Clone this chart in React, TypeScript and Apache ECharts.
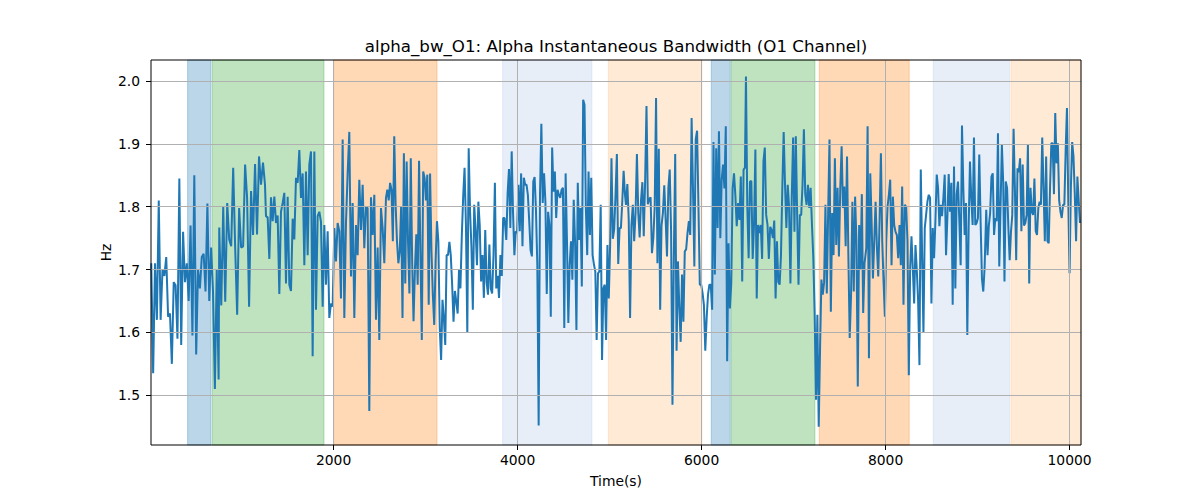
import React, { useEffect, useRef } from "react";
import * as echarts from "echarts";

// ---- data ----
const X_MIN = 15;
const X_MAX = 10124;
const Y_MIN = 1.4209;
const Y_MAX = 2.0334;

const X_TICKS = [2000, 4000, 6000, 8000, 10000];
const Y_TICKS = [1.5, 1.6, 1.7, 1.8, 1.9, 2.0];

// time range covered by each block of readings
const SEG_RANGES: [number, number][] = [
  [18, 750],
  [757, 1254],
  [1265, 2551],
  [2569, 3858],
  [3877, 5167],
  [5178, 6471],
  [6482, 7771],
  [7790, 9076],
  [9094, 10113],
];

const SEG_A = [1.71,1.535,1.71,1.62,1.81,1.62,1.70,1.69,1.72,1.625,1.63,1.55,1.68,1.675,1.59,1.845,1.58,1.76,1.68,1.71,1.65,1.77,1.595,1.85,1.565,1.70,1.67,1.72,1.725,1.665,1.805,1.65,1.735,1.665,1.51,1.70,1.525];
const SEG_B = [1.767,1.643,1.80,1.649,1.806,1.748,1.737,1.862,1.735,1.628,1.798,1.735,1.737,1.867,1.814,1.641,1.825,1.755,1.868,1.756,1.88,1.835,1.87,1.835];
const SEG_C = [1.785,1.783,1.717,1.815,1.777,1.816,1.774,1.786,1.661,1.792,1.806,1.822,1.678,1.816,1.676,1.666,1.781,1.748,1.846,1.838,1.89,1.814,1.853,1.707,1.856,1.723,1.867,1.888,1.562,1.888,1.636,1.785,1.792,1.776,1.641,1.771,1.676,1.761,1.623,1.646,1.641,1.766,1.713,1.774,1.761,1.654,1.907,1.623,1.774,1.853,1.919,1.689,1.806,1.623,1.771,1.723,1.843,1.763,1.835,1.734,1.80,1.798,1.475,1.815,1.755,1.819,1.62,1.735,1.588,1.798,1.766,1.71];
const SEG_D = [1.814,1.827,1.81,1.838,1.827,1.745,1.912,1.803,1.745,1.71,1.729,1.80,1.623,1.885,1.678,1.872,1.745,1.662,1.877,1.713,1.618,1.70,1.756,1.676,1.873,1.723,1.588,1.856,1.846,1.81,1.851,1.644,1.853,1.729,1.66,1.612,1.713,1.777,1.745,1.607,1.556,1.652,1.623,1.58,1.723,1.723,1.744,1.723,1.676,1.617,1.666,1.649,1.63,1.70,1.67,1.753,1.816,1.862,1.771,1.599,1.893,1.792,1.735,1.636,1.803,1.763,1.707,1.808,1.771,1.681,1.723,1.655,1.763,1.68,1.66,1.74,1.67,1.662,1.723,1.838,1.67,1.69,1.655,1.723,1.69,1.782,1.782];
const SEG_E = [1.747,1.822,1.86,1.766,1.888,1.79,1.723,1.761,1.758,1.835,1.761,1.853,1.737,1.846,1.835,1.835,1.819,1.777,1.731,1.721,1.84,1.847,1.795,1.708,1.452,1.82,1.932,1.806,1.853,1.808,1.661,1.792,1.771,1.625,1.894,1.824,1.856,1.782,1.827,1.819,1.814,1.827,1.83,1.607,1.853,1.745,1.615,1.708,1.745,1.684,1.811,1.745,1.604,1.838,1.747,1.798,1.673,1.97,1.962,1.798,1.723,1.856,1.755,1.846,1.723,1.708,1.697,1.588,1.694,1.697,1.803,1.556,1.67,1.676,1.588,1.739,1.654,1.739,1.877,1.749,1.764,1.819,1.884,1.709,1.766,1.766,1.808,1.857,1.819];
const SEG_F = [1.803,1.836,1.78,1.623,1.77,1.803,1.745,1.79,1.884,1.79,1.751,1.81,1.839,1.753,1.84,1.96,1.804,1.812,1.815,1.726,1.75,1.80,1.973,1.71,1.892,1.636,1.77,1.79,1.834,1.78,1.721,1.83,1.859,1.76,1.485,1.72,1.884,1.571,1.713,1.64,1.585,1.692,1.617,1.729,1.732,1.758,1.777,1.755,1.941,1.83,1.705,1.907,1.921,1.80,1.676,1.676,1.663,1.644,1.571,1.623,1.66,1.676,1.676,1.636,1.903,1.692,1.893,1.766,1.92,1.75,1.843,1.867,1.829,1.928,1.554,1.742,1.638,1.678,1.829,1.853,1.818,1.769,1.806,1.779,1.848,1.681,1.859,1.862];
const SEG_G = [2.007,1.80,1.718,1.84,1.841,1.717,1.771,1.891,1.654,1.771,1.758,1.771,1.717,1.872,1.894,1.787,1.771,1.717,1.768,1.763,1.75,1.778,1.654,1.745,1.68,1.676,1.723,1.83,1.919,1.835,1.766,1.835,1.80,1.678,1.814,1.91,1.76,1.912,1.787,1.676,1.787,1.787,1.835,1.923,1.82,1.803,1.835,1.798,1.83,1.771,1.718,1.628,1.493,1.628,1.45,1.575,1.684,1.66,1.68,1.803,1.662,1.79,1.907,1.633,1.79,1.723,1.877,1.739,1.83,1.721,1.83,1.896,1.798,1.832,1.737,1.88,1.723,1.591,1.66,1.808,1.665,1.816,1.745,1.514,1.771,1.70,1.82,1.631,1.71];
const SEG_H = [1.734,1.928,1.559,1.853,1.777,1.686,1.745,1.808,1.735,1.689,1.777,1.885,1.745,1.681,1.625,1.745,1.80,1.819,1.843,1.707,1.816,1.771,1.76,1.755,1.718,1.771,1.707,1.832,1.644,1.803,1.80,1.745,1.532,1.70,1.753,1.702,1.646,1.739,1.70,1.65,1.548,1.859,1.723,1.599,1.766,1.787,1.808,1.819,1.814,1.646,1.766,1.718,1.777,1.851,1.83,1.769,1.803,1.785,1.814,1.851,1.723,1.782,1.852,1.792,1.838,1.644,1.864,1.67,1.82,1.84,1.777,1.707,1.929,1.83,1.755,1.806,1.596,1.766,1.872,1.814,1.771,1.91,1.771,1.774,1.782,1.883,1.777,1.686,1.665,1.702];
const SEG_I = [1.795,1.723,1.77,1.79,1.848,1.853,1.755,1.782,1.777,1.917,1.705,1.80,1.899,1.84,1.681,1.84,1.83,1.766,1.715,1.76,1.787,1.924,1.83,1.715,1.861,1.855,1.877,1.761,1.867,1.77,1.774,1.787,1.899,1.678,1.83,1.792,1.787,1.845,1.761,1.755,1.798,1.808,1.803,1.91,1.83,1.745,1.88,1.745,1.742,1.83,1.901,1.901,1.82,1.949,1.869,1.901,1.81,1.792,1.782,1.803,1.803,1.89,1.957,1.81,1.694,1.83,1.903,1.88,1.82,1.745,1.848,1.81,1.774];

const SEGMENTS = [SEG_A, SEG_B, SEG_C, SEG_D, SEG_E, SEG_F, SEG_G, SEG_H, SEG_I];

// shaded state bands
const BAND_RANGES: [number, number][] = [
  [413, 667],
  [681, 1895],
  [2000, 3124],
  [3837, 4808],
  [4986, 6004],
  [6105, 6312],
  [6323, 7232],
  [7279, 8257],
  [8518, 9348],
  [9363, 10124],
];
const BAND_KINDS = [
  "blue", "green", "orange", "lightblue", "lightorange",
  "blue", "green", "orange", "lightblue", "lightorange",
];

const TITLE = "alpha_bw_O1: Alpha Instantaneous Bandwidth (O1 Channel)";
const X_NAME = "Time(s)";
const Y_NAME = "Hz";

// ---- styles ----
const BAND_COLORS: Record<string, string> = {
  blue: "rgba(31,119,180,0.3)",
  green: "rgba(44,160,44,0.3)",
  orange: "rgba(255,127,14,0.3)",
  lightblue: "rgba(174,199,232,0.3)",
  lightorange: "rgba(255,187,120,0.3)",
};

const FONT = "'DejaVu Sans', 'Liberation Sans', sans-serif";
const LABEL_SIZE = 13.89;
const TITLE_SIZE = 16.67;

const GRID = { left: 151, right: 119, top: 60, bottom: 55 };

function buildLine(): [number, number][] {
  const out: [number, number][] = [];
  SEGMENTS.forEach((vals, si) => {
    const [a, b] = SEG_RANGES[si];
    const n = vals.length;
    vals.forEach((v, i) => {
      const t = n > 1 ? a + ((b - a) * i) / (n - 1) : a;
      out.push([t, v]);
    });
  });
  return out;
}

export default function App() {
  const ref = useRef<HTMLDivElement>(null);

  useEffect(() => {
    if (!ref.current) return;
    const chart = echarts.init(ref.current, undefined, { renderer: "svg" });
    const plotW = 1200 - GRID.left - GRID.right;
    const plotH = 500 - GRID.top - GRID.bottom;
    const cx = GRID.left + plotW / 2;

    const option: any = {
      animation: false,
      backgroundColor: "#ffffff",
      grid: { left: GRID.left, right: GRID.right, top: GRID.top, bottom: GRID.bottom, containLabel: false },
      xAxis: {
        type: "value",
        min: X_MIN,
        max: X_MAX,
        axisLine: { show: false },
        axisTick: {
          show: true,
          customValues: X_TICKS,
          length: 5,
          lineStyle: { color: "#000", width: 1 },
        },
        axisLabel: {
          show: true,
          customValues: X_TICKS,
          color: "#000",
          fontSize: LABEL_SIZE,
          fontFamily: FONT,
          margin: 8,
          formatter: (v: number) => String(v),
        },
        splitLine: { show: false },
      },
      yAxis: {
        type: "value",
        min: Y_MIN,
        max: Y_MAX,
        axisLine: { show: false },
        axisTick: {
          show: true,
          customValues: Y_TICKS,
          length: 5,
          lineStyle: { color: "#000", width: 1 },
        },
        axisLabel: {
          show: true,
          customValues: Y_TICKS,
          color: "#000",
          fontSize: LABEL_SIZE,
          fontFamily: FONT,
          margin: 11,
          formatter: (v: number) => v.toFixed(1),
        },
        splitLine: { show: false },
      },
      series: [
        {
          type: "line",
          data: [],
          z: 1,
          silent: true,
          markArea: {
            silent: true,
            data: BAND_RANGES.map((r, i) => [
              {
                xAxis: r[0],
                itemStyle: {
                  color: BAND_COLORS[BAND_KINDS[i]],
                  borderColor: BAND_COLORS[BAND_KINDS[i]],
                  borderWidth: 1,
                },
              },
              { xAxis: r[1] },
            ]),
          },
        },
        {
          type: "line",
          data: [],
          z: 2,
          silent: true,
          markLine: {
            silent: true,
            symbol: ["none", "none"],
            label: { show: false },
            lineStyle: { color: "#b0b0b0", width: 1, type: "solid" },
            data: [
              ...X_TICKS.map((v) => ({ xAxis: v })),
              ...Y_TICKS.map((v) => ({ yAxis: v })),
            ],
          },
        },
        {
          type: "line",
          data: buildLine(),
          z: 3,
          showSymbol: false,
          symbol: "none",
          lineStyle: { color: "#1f77b4", width: 2 },
        },
      ],
      graphic: [
        {
          type: "rect",
          z: 100,
          silent: true,
          shape: { x: GRID.left, y: GRID.top, width: plotW, height: plotH },
          style: { fill: "none", stroke: "#000", lineWidth: 1 },
        },
        {
          type: "text",
          x: cx,
          y: 46,
          style: {
            text: TITLE,
            fill: "#000",
            fontSize: TITLE_SIZE,
            fontFamily: FONT,
            align: "center",
            verticalAlign: "middle",
          },
        },
        {
          type: "text",
          x: cx,
          y: 481,
          style: {
            text: X_NAME,
            fill: "#000",
            fontSize: LABEL_SIZE,
            fontFamily: FONT,
            align: "center",
            verticalAlign: "middle",
          },
        },
        {
          type: "text",
          x: 106,
          y: GRID.top + plotH / 2,
          rotation: Math.PI / 2,
          style: {
            text: Y_NAME,
            fill: "#000",
            fontSize: LABEL_SIZE,
            fontFamily: FONT,
            align: "center",
            verticalAlign: "middle",
          },
        },
      ],
    };

    chart.setOption(option);
    return () => chart.dispose();
  }, []);

  return (
    <div
      ref={ref}
      style={{ position: "absolute", left: 0, top: 0, width: 1200, height: 500, background: "#fff" }}
    />
  );
}
